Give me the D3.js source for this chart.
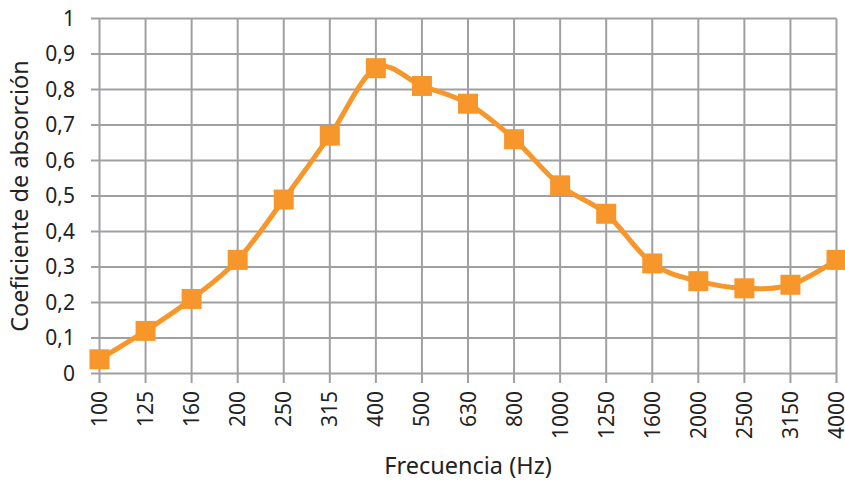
<!DOCTYPE html>
<html>
<head>
<meta charset="utf-8">
<script src="https://cdn.jsdelivr.net/npm/d3@7"></script>
<style>
  body { margin: 0; background: #fff; }
  text { font-family: "Noto Sans", "Open Sans", sans-serif; fill: #222; }
</style>
</head>
<body>
<script>
var width = 845;
var height = 482;

// data
var frequencies = ["100", "125", "160", "200", "250", "315", "400", "500", "630", "800",
                   "1000", "1250", "1600", "2000", "2500", "3150", "4000"];
var absorption = [0.04, 0.12, 0.21, 0.32, 0.49, 0.67, 0.86, 0.81, 0.76, 0.66,
                  0.53, 0.45, 0.31, 0.26, 0.24, 0.25, 0.32];
var yTicks = [0, 0.1, 0.2, 0.3, 0.4, 0.5, 0.6, 0.7, 0.8, 0.9, 1];

var x = d3.scalePoint()
    .domain(frequencies)
    .range([99.5, 836.5]);

var y = d3.scaleLinear()
    .domain([0, 1])
    .range([373.5, 18.5]);

var svg = d3.select("body").append("svg")
    .attr("width", width)
    .attr("height", height);

var gridColor = "#a0a0a3";

// horizontal grid lines (extend left as ticks)
svg.selectAll("line.hgrid")
    .data(yTicks)
    .enter()
    .append("line")
    .attr("class", "hgrid")
    .attr("x1", 91)
    .attr("x2", 836.5)
    .attr("y1", d => y(d))
    .attr("y2", d => y(d))
    .attr("stroke", gridColor)
    .attr("stroke-width", 2);

// vertical grid lines (extend below as ticks)
svg.selectAll("line.vgrid")
    .data(frequencies)
    .enter()
    .append("line")
    .attr("class", "vgrid")
    .attr("x1", d => x(d))
    .attr("x2", d => x(d))
    .attr("y1", y(1))
    .attr("y2", 383)
    .attr("stroke", gridColor)
    .attr("stroke-width", 2);

// y tick labels
svg.selectAll("text.ylab")
    .data(yTicks)
    .enter()
    .append("text")
    .attr("class", "ylab")
    .attr("x", 75)
    .attr("y", d => y(d))
    .attr("dy", "0.35em")
    .attr("text-anchor", "end")
    .style("font-size", "21px")
    .text(d => d === 0 || d === 1 ? String(d) : d3.format(".1f")(d).replace(".", ","));

// x tick labels, rotated
svg.selectAll("text.xlab")
    .data(frequencies)
    .enter()
    .append("text")
    .attr("class", "xlab")
    .attr("transform", d => "translate(" + (x(d) + 7.5) + ",391) rotate(-90)")
    .attr("text-anchor", "end")
    .style("font-size", "21px")
    .text(d => d);

// axis titles
svg.append("text")
    .attr("x", 468)
    .attr("y", 474)
    .attr("text-anchor", "middle")
    .style("font-size", "23.5px")
    .text("Frecuencia (Hz)");

svg.append("text")
    .attr("transform", "translate(28,196) rotate(-90)")
    .attr("text-anchor", "middle")
    .style("font-size", "23.5px")
    .text("Coeficiente de absorción");

// smoothed line
var line = d3.line()
    .x((d, i) => x(frequencies[i]))
    .y(d => y(d))
    .curve(d3.curveCardinal.tension(0));

svg.append("path")
    .datum(absorption)
    .attr("d", line)
    .attr("fill", "none")
    .attr("stroke", "#f7962a")
    .attr("stroke-width", 5);

// square markers
var ms = 20;
svg.selectAll("rect.marker")
    .data(absorption)
    .enter()
    .append("rect")
    .attr("class", "marker")
    .attr("x", (d, i) => x(frequencies[i]) - ms / 2)
    .attr("y", d => y(d) - ms / 2)
    .attr("width", ms)
    .attr("height", ms)
    .attr("fill", "#f7962a");
</script>
</body>
</html>
